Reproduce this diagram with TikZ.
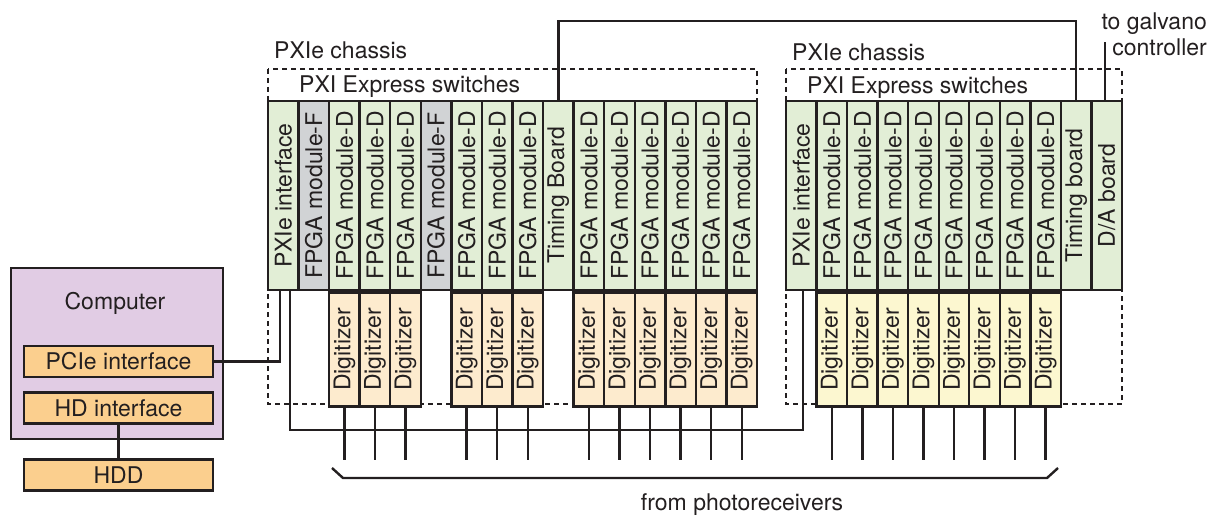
\documentclass[tikz,border=0pt]{standalone}
\usepackage{fontspec}
\setmainfont{TeX Gyre Heros}
\usepackage{graphicx}
\usepackage{tikz}
\usetikzlibrary{
	arrows.meta,
	calc,
	positioning
}
\definecolor{Ink}{RGB}{35,31,32}
\definecolor{ModGreen}{RGB}{226,238,214}
\definecolor{ModGray}{RGB}{209,211,213}
\definecolor{DigPeach}{RGB}{253,235,206}
\definecolor{DigYellow}{RGB}{252,247,208}
\definecolor{PcLilac}{RGB}{225,204,228}
\definecolor{IfOrange}{RGB}{251,207,142}

\begin{document}
\begin{tikzpicture}[x=0.5pt, y=-0.5pt, line width=1.2pt, color=Ink,
		font=\fontsize{11.5}{13}\selectfont,
		box/.style={draw, inner sep=0pt},
		module/.style={box, minimum width=15.28pt, minimum height=94.5pt},
		digi/.style={box, minimum width=15.28pt, minimum height=57pt},
		iface/.style={box, fill=IfOrange, minimum width=94.5pt, minimum height=15.5pt},
		chassis/.style={line width=1.3pt, dash pattern=on 2.5pt off 2pt},
		lab/.style={inner sep=0pt, anchor=west}]
		\useasboundingbox (0,0) rectangle (1218,519);
		
		% 计算机
		\node[box, fill=PcLilac, minimum width=106pt, minimum height=85.5pt] (pc) at (117,353.5) {};
		\node (pclab) at (115,303) {Computer};
		\node[iface] (pcie) at (118.5,361.5) {PCIe interface};
		\node[iface] (hdif) at (118.5,408) {HD interface};
		\node[iface] (hdd) at (118.5,475) {HDD};
		\draw (hdif.south) -- (hdd.north);
		
		% 机箱 1
		\draw[chassis] (268,69) rectangle (757,404);
		\node[lab] (ch1) at (273,50) {PXIe chassis};
		\node[lab] (sw1) at (298,87) {PXI Express switches};
		\foreach \lab/\col [count=\i] in {PXIe interface/ModGreen, FPGA module-F/ModGray,
			FPGA module-D/ModGreen, FPGA module-D/ModGreen, FPGA module-D/ModGreen,
			FPGA module-F/ModGray, FPGA module-D/ModGreen, FPGA module-D/ModGreen,
			FPGA module-D/ModGreen, Timing Board/ModGreen, FPGA module-D/ModGreen,
			FPGA module-D/ModGreen, FPGA module-D/ModGreen, FPGA module-D/ModGreen,
			FPGA module-D/ModGreen, FPGA module-D/ModGreen}
			\node[module, fill=\col] (a\i) at ({268+(\i-0.5)*30.5625},195.5) {\rotatebox{90}{\lab}};
		\foreach \i in {3,4,5,7,8,9,11,12,...,16} {
			\node[digi, fill=DigPeach, anchor=north] (da\i) at (a\i.south) {\rotatebox{90}{Digitizer}};
			\draw (da\i.south) -- ++(0,52);
		}
		
		% 机箱 2
		\draw[chassis] (786,69) rectangle (1122,404);
		\node[lab] (ch2) at (791,52) {PXIe chassis};
		\node[lab] (sw2) at (806,88) {PXI Express switches};
		\foreach \lab [count=\i] in {PXIe interface, FPGA module-D, FPGA module-D,
			FPGA module-D, FPGA module-D, FPGA module-D, FPGA module-D, FPGA module-D,
			FPGA module-D, Timing board, D/A board}
			\node[module, fill=ModGreen] (b\i) at ({786+(\i-0.5)*30.545},195.5) {\rotatebox{90}{\lab}};
		\foreach \i in {2,3,...,9} {
			\node[digi, fill=DigYellow, anchor=north] (db\i) at (b\i.south) {\rotatebox{90}{Digitizer}};
			\draw (db\i.south) -- ++(0,52);
		}
		
		% 连线
		\draw (pcie.east) -| ($(a1.south)+(-3,0)$);
		\draw ($(a1.south)+(7,0)$) -- ++(0,139) -| ($(b1.south)+(2,0)$);
		\draw (a10.north) -- ++(0,-79) -| (b10.north);
		\node[inner sep=0pt, align=right, anchor=east] (galv) at (1208,34) {to galvano\\controller};
		\draw ($(b11.north)+(-2,0)$) -- ++(0,-58);
		
		% 光电接收器
		\draw (332,468) -- (343,478) -- (1047,478) -- (1058,468);
		\node (photo) at (742,505) {from photoreceivers};
	\end{tikzpicture}
\end{document}
